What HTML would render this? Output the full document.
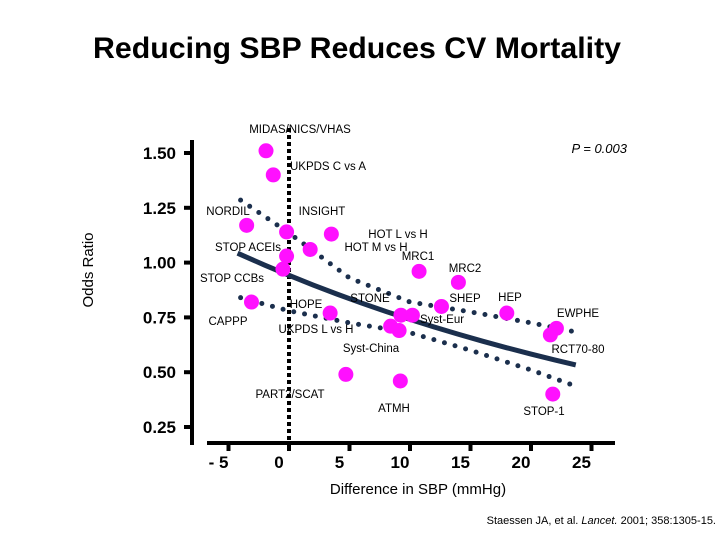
<!DOCTYPE html>
<html><head><meta charset="utf-8"><style>
body{margin:0;background:#fff;}
svg{display:block;font-family:"Liberation Sans",sans-serif;}
</style></head><body>
<svg id="chart" width="720" height="540" viewBox="0 0 720 540">
<text x="357" y="58" text-anchor="middle" font-size="30" font-weight="bold" fill="#000" textLength="528" lengthAdjust="spacingAndGlyphs">Reducing SBP Reduces CV Mortality</text>
<text transform="translate(93,270) rotate(-90)" text-anchor="middle" font-size="15" fill="#000">Odds Ratio</text>
<text x="418" y="494" text-anchor="middle" font-size="15" fill="#000">Difference in SBP (mmHg)</text>
<text x="627" y="153" text-anchor="end" font-size="13" font-style="italic" fill="#000">P = 0.003</text>
<text x="716" y="524" text-anchor="end" font-size="11" fill="#000">Staessen JA, et al. <tspan font-style="italic">Lancet.</tspan> 2001; 358:1305-15.</text>
<g id="plot"></g>
</svg>
<script>
const xTicks=[-5,0,5,10,15,20,25];
const yTicks=[0.25,0.50,0.75,1.00,1.25,1.50];
const yTickLabels=["0.25","0.50","0.75","1.00","1.25","1.50"];
const studyNames=["MIDAS/NICS/VHAS","UKPDS C vs A","NORDIL","INSIGHT","HOT L vs H","STOP ACEIs","HOT M vs H","STOP CCBs","MRC1","MRC2","CAPPP","HOPE","SHEP","STONE","Syst-Eur","HEP","EWPHE","RCT70-80","UKPDS L vs H","Syst-China","PART2/SCAT","ATMH","STOP-1"];
const sbpDiff=[-1.9,-1.3,-3.5,-0.2,3.5,-0.2,1.75,-0.5,10.75,14,-3.1,3.4,12.6,9.25,10.2,18,22.1,21.6,8.4,9.1,4.7,9.2,21.8];
const oddsRatio=[1.51,1.40,1.17,1.14,1.13,1.03,1.06,0.97,0.96,0.91,0.82,0.77,0.80,0.76,0.76,0.77,0.70,0.67,0.71,0.69,0.49,0.46,0.40];
const fitX=[-4.25,-2,0,2,4,6,8,10,12,14,16,18,20,22,23.7];
const ciX=[-4,0,5,10,15,20,24];
const ciUpper=[1.285,1.135,0.93,0.82,0.775,0.725,0.68];
const ciLower=[0.84,0.78,0.725,0.68,0.60,0.51,0.43];
const fitA=-0.06, fitB=-0.024;

const X=v=>289+v*12.1;
const Y=v=>427-(v-0.25)*219.2;
const NS="http://www.w3.org/2000/svg";
const g=document.getElementById('plot');
function mk(t,a){const e=document.createElementNS(NS,t);for(const k in a)e.setAttribute(k,a[k]);g.appendChild(e);return e;}
let e=mk('line',{x1:192,y1:140,x2:192,y2:445,stroke:'#000','stroke-width':4});


e=mk('line',{x1:207,y1:443,x2:615,y2:443,stroke:'#000','stroke-width':4});


yTicks.forEach((v,i)=>{
 let t=mk('line',{x1:184,y1:Y(v),x2:192,y2:Y(v),stroke:'#000','stroke-width':4});
 
 
 let l=mk('text',{x:176,y:Y(v)+6,'text-anchor':'end','font-size':17,'font-weight':'bold'});
 l.textContent=yTickLabels[i];
 
 
});
xTicks.forEach(v=>{
 let t=mk('line',{x1:X(v),y1:443,x2:X(v),y2:451,stroke:'#000','stroke-width':4});
 
 
 let l=mk('text',{x:X(v)-10,y:468,'text-anchor':'middle','font-size':17,'font-weight':'bold'});
 l.textContent=v<0?('- '+(-v)):String(v);
 
 
});
e=mk('line',{x1:X(0),y1:128,x2:X(0),y2:443,stroke:'#000','stroke-width':4,'stroke-dasharray':'4 3'});


function dotted(xs,vs,name){
 let p=mk('path',{d:xs.map((x,i)=>(i?'L':'M')+X(x)+','+Y(vs[i])).join(' '),fill:'none',stroke:'#1b2f4d','stroke-width':5,'stroke-linecap':'round','stroke-dasharray':'0 11'});
 
 
}
dotted(ciX,ciUpper,'upper-ci-line');
dotted(ciX,ciLower,'lower-ci-line');
e=mk('path',{d:fitX.map((x,i)=>(i?'L':'M')+X(x)+','+Y(Math.exp(fitA+fitB*x))).join(' '),fill:'none',stroke:'#1b2f4d','stroke-width':5});


sbpDiff.forEach((x,i)=>{
 let c=mk('circle',{cx:X(x),cy:Y(oddsRatio[i]),r:7.5,fill:'#ff10ff'});
 
 
});
const labelPos=[[300,133],[328,170],[228,215],[322,215],[398,238],[248,251],[376,251],[232,282],[418,260],[465,272],[228,325],[306,308],[465,302],[370,302],[442,323],[510,301],[578,317],[578,353],[316,333],[371,352],[290,398],[394,412],[544,415]];
studyNames.forEach((n,i)=>{
 let t=mk('text',{x:labelPos[i][0],y:labelPos[i][1],'text-anchor':'middle','font-size':11.5,fill:'#000'});
 t.textContent=n;
 
 
});
</script>
</body></html>
